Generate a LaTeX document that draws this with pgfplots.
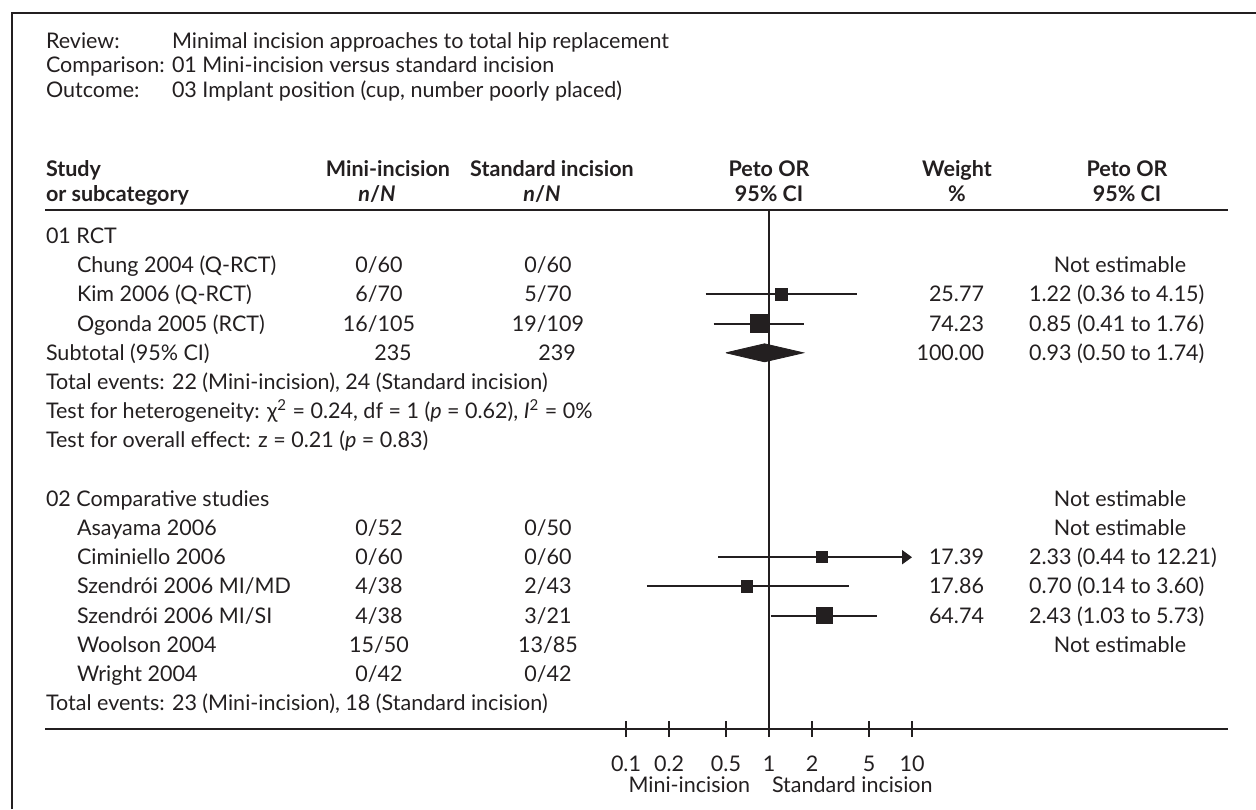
\documentclass[border=0pt]{standalone}
\usepackage{fontspec}
\setmainfont{Lato}
\usepackage{pgfplots}
\pgfplotsset{compat=1.18}
\usetikzlibrary{arrows.meta}
\definecolor{ink}{HTML}{231F20}
\newcommand{\fs}{\fontsize{10.8}{12}\selectfont}
\begin{document}
\begin{tikzpicture}
\begin{scope}[x=0.5bp,y=-0.5bp,
  every node/.style={inner sep=0pt, outer sep=0pt, text=ink, font=\fs},
  L/.style={anchor=base west}, C/.style={anchor=base}, R/.style={anchor=base east}]
\path[use as bounding box] (0,0) rectangle (1256,809);
\draw[ink, line width=1bp] (11.5,809) -- (11.5,13) -- (1256,13);
% header
\node[L] at (46,48) {Review:};
\node[L] at (172,48) {Minimal incision approaches to total hip replacement};
\node[L] at (46,72.5) {Comparison:};
\node[L] at (172,72.5) {01 Mini-incision versus standard incision};
\node[L] at (46,97) {Outcome:};
\node[L] at (172,97) {03 Implant position (cup, number poorly placed)};
% column headers
\begin{scope}[every node/.append style={font=\fs\bfseries}]
\node[L] at (46,176) {Study};
\node[L] at (46,201) {or subcategory};
\node[C] at (388,176) {Mini-incision};
\node[C] at (377,201) {\textit{n}/\textit{N}};
\node[C] at (552,176) {Standard incision};
\node[C] at (542,201) {\textit{n}/\textit{N}};
\node[C] at (769,176) {Peto OR};
\node[C] at (769,201) {95\% CI};
\node[C] at (957,176) {Weight};
\node[C] at (957,201) {\%};
\node[C] at (1127,176) {Peto OR};
\node[C] at (1127,201) {95\% CI};
\end{scope}
\draw[ink, line width=1bp] (45,210) -- (1228,210);
\draw[ink, line width=1bp] (45,729) -- (1228,729);
% rows (centre = 236 + 29.2 i, baseline = centre + 7.5)
\node[L] at (46,243.5) {01 RCT};
\node[L] at (77,272.7) {Chung 2004 (Q-RCT)};
\node[C] at (379,272.7) {0/60}; \node[C] at (548,272.7) {0/60};
\node[C] at (1120,272.7) {Not estimable};
\node[L] at (77,301.9) {Kim 2006 (Q-RCT)};
\node[C] at (379,301.9) {6/70}; \node[C] at (548,301.9) {5/70};
\node[R] at (984,301.9) {25.77}; \node[L] at (1029,301.9) {1.22 (0.36 to 4.15)};
\node[L] at (77,331.1) {Ogonda 2005 (RCT)};
\node[C] at (379,331.1) {16/105}; \node[C] at (548,331.1) {19/109};
\node[R] at (984,331.1) {74.23}; \node[L] at (1029,331.1) {0.85 (0.41 to 1.76)};
\node[L] at (46,360.3) {Subtotal (95\% CI)};
\node[C] at (393,360.3) {235}; \node[C] at (557,360.3) {239};
\node[R] at (984,360.3) {100.00}; \node[L] at (1029,360.3) {0.93 (0.50 to 1.74)};
\node[L] at (46,389.5) {Total events: 22 (Mini-incision), 24 (Standard incision)};
\node[L] at (46,418.7) {Test for heterogeneity: χ\textsuperscript{2} = 0.24, df = 1 (\textit{p} = 0.62), \textit{I}\textsuperscript{2} = 0\%};
\node[L] at (46,447.9) {Test for overall effect: z = 0.21 (\textit{p} = 0.83)};
\node[L] at (46,506.3) {02 Comparative studies};
\node[C] at (1120,506.3) {Not estimable};
\node[L] at (77,535.5) {Asayama 2006};
\node[C] at (379,535.5) {0/52}; \node[C] at (548,535.5) {0/50};
\node[C] at (1120,535.5) {Not estimable};
\node[L] at (77,564.7) {Ciminiello 2006};
\node[C] at (379,564.7) {0/60}; \node[C] at (548,564.7) {0/60};
\node[R] at (984,564.7) {17.39}; \node[L] at (1029,564.7) {2.33 (0.44 to 12.21)};
\node[L] at (77,593.9) {Szendrói 2006 MI/MD};
\node[C] at (379,593.9) {4/38}; \node[C] at (548,593.9) {2/43};
\node[R] at (984,593.9) {17.86}; \node[L] at (1029,593.9) {0.70 (0.14 to 3.60)};
\node[L] at (77,623.1) {Szendrói 2006 MI/SI};
\node[C] at (379,623.1) {4/38}; \node[C] at (548,623.1) {3/21};
\node[R] at (984,623.1) {64.74}; \node[L] at (1029,623.1) {2.43 (1.03 to 5.73)};
\node[L] at (77,652.3) {Woolson 2004};
\node[C] at (379,652.3) {15/50}; \node[C] at (548,652.3) {13/85};
\node[C] at (1120,652.3) {Not estimable};
\node[L] at (77,681.5) {Wright 2004};
\node[C] at (379,681.5) {0/42}; \node[C] at (548,681.5) {0/42};
\node[L] at (46,710.7) {Total events: 23 (Mini-incision), 18 (Standard incision)};
\node[R] at (750,792.5) {Mini-incision};
\node[L] at (772,792.5) {Standard incision};
\end{scope}
% forest plot (y data = minus pixel row)
\begin{axis}[at={(313bp,-364.5bp)}, anchor=south west, scale only axis,
  width=143bp, height=259.5bp, xmode=log, xmin=0.1, xmax=10,
  ymin=-729, ymax=-210, clip=false,
  axis x line*=bottom, axis y line=none,
  x axis line style={draw=none},
  xtick={0.1,0.2,0.5,1,2,5,10}, xticklabels={0.1,0.2,0.5,1,2,5,10},
  xtick align=center, major tick length=8bp,
  tick style={ink, line width=0.75bp},
  xticklabel style={anchor=base, font=\fs, text=ink, inner sep=0pt},
  xticklabel shift=17bp]
\addplot[ink, line width=0.75bp] coordinates {(1,-210) (1,-729)};
% Kim
\addplot[ink, line width=1bp] coordinates {(0.36,-294.4) (4.15,-294.4)};
\addplot[only marks, mark=square*, mark size=3.15bp, ink, mark options={fill=ink}] coordinates {(1.22,-294.4)};
% Ogonda
\addplot[ink, line width=1bp] coordinates {(0.41,-323.6) (1.76,-323.6)};
\addplot[only marks, mark=square*, mark size=4.4bp, ink, mark options={fill=ink}] coordinates {(0.85,-323.6)};
% Subtotal diamond
\addplot[ink, fill=ink] coordinates {(0.50,-352.8) (0.93,-343.8) (1.74,-352.8) (0.93,-361.8) (0.50,-352.8)};
% Ciminiello
\addplot[ink, line width=1bp, -{Triangle[length=5bp,width=7bp]}] coordinates {(0.44,-557.2) (10,-557.2)};
\addplot[only marks, mark=square*, mark size=2.8bp, ink, mark options={fill=ink}] coordinates {(2.33,-557.2)};
% Szendroi MI/MD
\addplot[ink, line width=1bp] coordinates {(0.14,-586.4) (3.60,-586.4)};
\addplot[only marks, mark=square*, mark size=2.8bp, ink, mark options={fill=ink}] coordinates {(0.70,-586.4)};
% Szendroi MI/SI
\addplot[ink, line width=1bp] coordinates {(1.03,-615.6) (5.73,-615.6)};
\addplot[only marks, mark=square*, mark size=3.9bp, ink, mark options={fill=ink}] coordinates {(2.43,-615.6)};
\end{axis}
\end{tikzpicture}
\end{document}
